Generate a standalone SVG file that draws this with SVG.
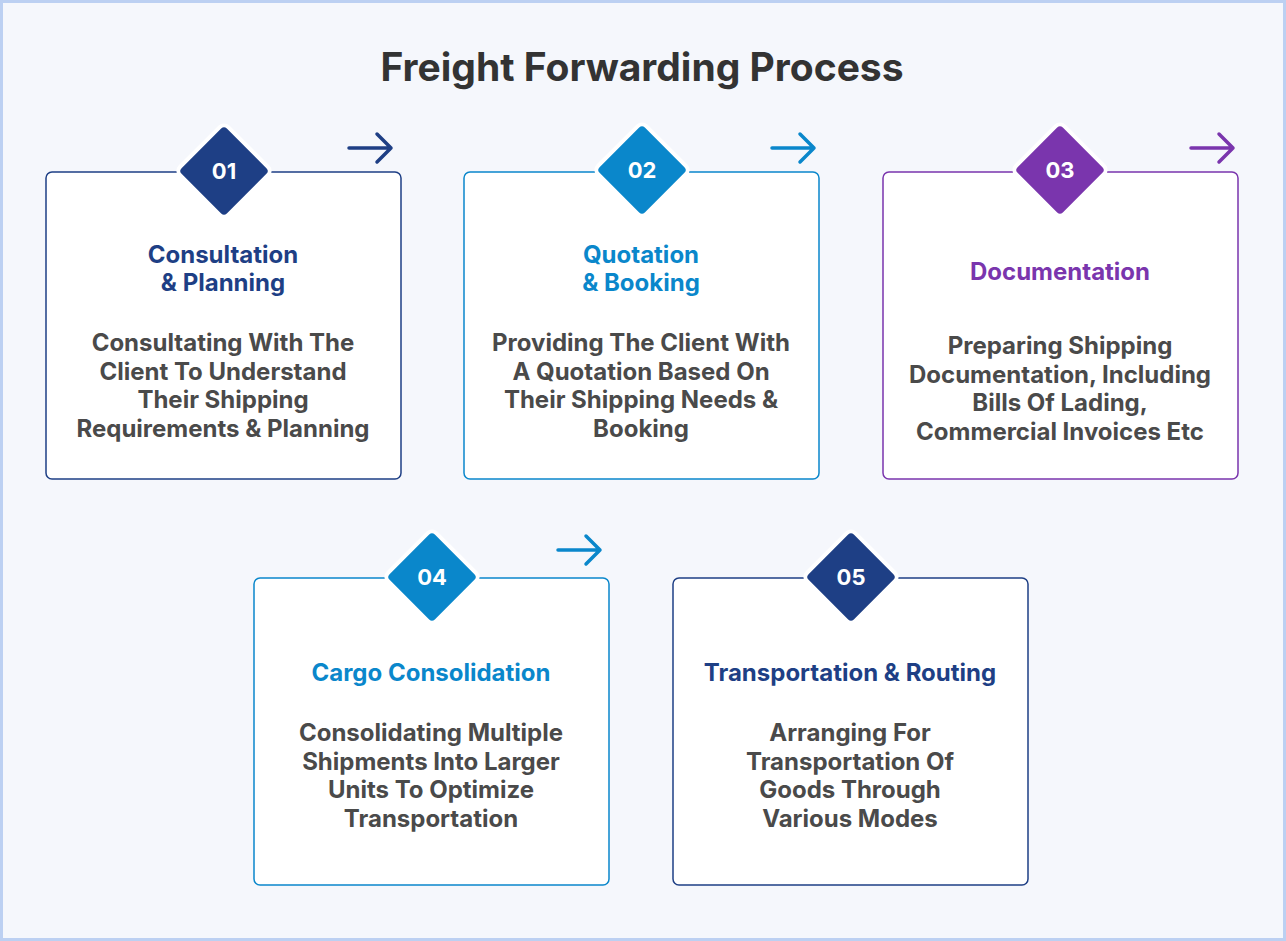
<svg xmlns="http://www.w3.org/2000/svg" width="1286" height="941" viewBox="0 0 1286 941">
<style>
.bg{fill:#f5f7fc;stroke:#bcd0f2;stroke-width:3}
.box{fill:#fff;stroke-width:1.5}
.dia{stroke:#fff;stroke-width:4;stroke-linejoin:round}
.num{font-family:Inter,"Liberation Sans",sans-serif;font-weight:700;font-size:22px;fill:#fff;text-anchor:middle}
.h{font-family:Inter,"Liberation Sans",sans-serif;font-weight:700;font-size:24px;text-anchor:middle}
.t{font-family:Inter,"Liberation Sans",sans-serif;font-weight:700;font-size:24px;fill:#4a4a4a;text-anchor:middle}
.arr{fill:none;stroke-width:3.5;stroke-linecap:round;stroke-linejoin:round}
.navy{fill:#1e3f85}.blue{fill:#0a87cb}.purple{fill:#7a35ad}
</style>
<rect class="bg" x="1.5" y="1.5" width="1283" height="938"/>
<text x="642" y="81" font-family="Inter,'Liberation Sans',sans-serif" font-weight="700" font-size="39" fill="#333" text-anchor="middle">Freight Forwarding Process</text>
<g id="connectors">
<path class="arr" stroke="#1e3f85" d="M349 148H391M377 134L391 148L377 162"/>
<path class="arr" stroke="#0a87cb" d="M772 148H814M800 134L814 148L800 162"/>
<path class="arr" stroke="#7a35ad" d="M1191 148H1233M1219 134L1233 148L1219 162"/>
<path class="arr" stroke="#0a87cb" d="M558 550H600M586 536L600 550L586 564"/>
</g>
<g id="n1">
<rect class="box" x="46" y="172" width="355" height="307" rx="6" stroke="#1e3f85"/>
<rect class="dia navy" x="190" y="137" width="68" height="68" rx="6" transform="rotate(45 224 171)"/>
<text class="num" x="224" y="179">01</text>
<text class="h navy" x="223" y="263">Consultation</text>
<text class="h navy" x="223" y="291">&amp; Planning</text>
<text class="t" x="223" y="351">Consultating With The</text>
<text class="t" x="223" y="380">Client To Understand</text>
<text class="t" x="223" y="408">Their Shipping</text>
<text class="t" x="223" y="437">Requirements &amp; Planning</text>
</g>
<g id="n2">
<rect class="box" x="464" y="172" width="355" height="307" rx="6" stroke="#0a87cb"/>
<rect class="dia blue" x="608" y="136" width="68" height="68" rx="6" transform="rotate(45 642 170)"/>
<text class="num" x="642" y="178">02</text>
<text class="h blue" x="641" y="263">Quotation</text>
<text class="h blue" x="641" y="291">&amp; Booking</text>
<text class="t" x="641" y="351">Providing The Client With</text>
<text class="t" x="641" y="380">A Quotation Based On</text>
<text class="t" x="641" y="408">Their Shipping Needs &amp;</text>
<text class="t" x="641" y="437">Booking</text>
</g>
<g id="n3">
<rect class="box" x="883" y="172" width="355" height="307" rx="6" stroke="#7a35ad"/>
<rect class="dia purple" x="1026" y="136" width="68" height="68" rx="6" transform="rotate(45 1060 170)"/>
<text class="num" x="1060" y="178">03</text>
<text class="h purple" x="1060" y="280">Documentation</text>
<text class="t" x="1060" y="354">Preparing Shipping</text>
<text class="t" x="1060" y="383">Documentation, Including</text>
<text class="t" x="1060" y="411">Bills Of Lading,</text>
<text class="t" x="1060" y="440">Commercial Invoices Etc</text>
</g>
<g id="n4">
<rect class="box" x="254" y="578" width="355" height="307" rx="6" stroke="#0a87cb"/>
<rect class="dia blue" x="398" y="543" width="68" height="68" rx="6" transform="rotate(45 432 577)"/>
<text class="num" x="432" y="585">04</text>
<text class="h blue" x="431" y="681">Cargo Consolidation</text>
<text class="t" x="431" y="741">Consolidating Multiple</text>
<text class="t" x="431" y="770">Shipments Into Larger</text>
<text class="t" x="431" y="798">Units To Optimize</text>
<text class="t" x="431" y="827">Transportation</text>
</g>
<g id="n5">
<rect class="box" x="673" y="578" width="355" height="307" rx="6" stroke="#1e3f85"/>
<rect class="dia navy" x="817" y="543" width="68" height="68" rx="6" transform="rotate(45 851 577)"/>
<text class="num" x="851" y="585">05</text>
<text class="h navy" x="850" y="681">Transportation &amp; Routing</text>
<text class="t" x="850" y="741">Arranging For</text>
<text class="t" x="850" y="770">Transportation Of</text>
<text class="t" x="850" y="798">Goods Through</text>
<text class="t" x="850" y="827">Various Modes</text>
</g>
</svg>
